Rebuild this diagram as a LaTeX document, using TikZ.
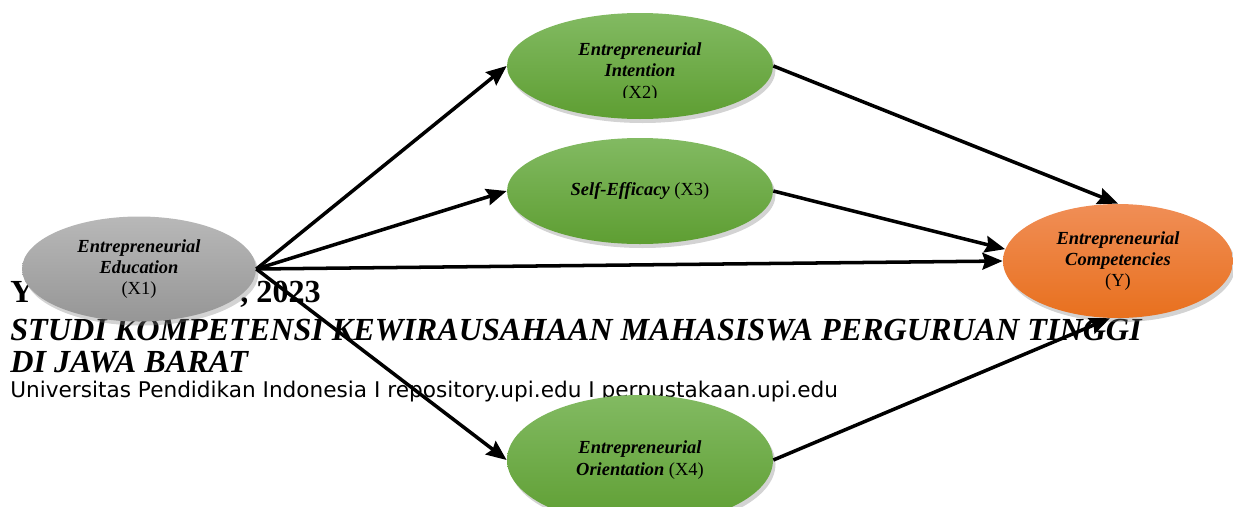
\documentclass[tikz,border=0pt]{standalone}
\usepackage{fontspec}
\setmainfont{Liberation Serif}
\newfontfamily\footsans{DejaVu Sans}
\usetikzlibrary{shapes.geometric}
\usetikzlibrary{shadows}
\usetikzlibrary{arrows.meta}

\definecolor{greentop}{RGB}{130,186,98}
\definecolor{greenbot}{RGB}{94,158,50}
\definecolor{graytop}{RGB}{184,184,184}
\definecolor{graybot}{RGB}{150,150,150}
\definecolor{orangetop}{RGB}{240,142,86}
\definecolor{orangebot}{RGB}{232,112,30}

\newcommand{\bi}[1]{\textbf{\textit{#1}}}

\tikzset{
	construct/.style={ellipse,inner sep=0pt,align=center,
		minimum width=5.32cm,minimum height=2.12cm,
		font=\fontsize{10.5}{12.2}\selectfont,
		drop shadow={shadow xshift=0.05cm,shadow yshift=-0.08cm,opacity=0.35}},
	greenshade/.style={top color=greentop,bottom color=greenbot},
	effect/.style={line width=2pt,-{Stealth[length=11.5pt,width=9.5pt,inset=1.5pt]}},
	foothead/.style={anchor=base west,inner sep=0pt,font=\fontsize{18.3}{20}\selectfont\bfseries},
}

\begin{document}
\begin{tikzpicture}
	\useasboundingbox (0,0) rectangle (24.66,10.12);
	% page footer lying underneath
	\node[foothead] (fy) at (0.2,4.08) {Y};
	\node[foothead] (fyear) at (4.8,4.08) {, 2023};
	\node[foothead,font=\fontsize{18.3}{20}\selectfont\bfseries\itshape] (ftitle) at (0.2,3.32) {STUDI KOMPETENSI KEWIRAUSAHAAN MAHASISWA PERGURUAN TINGGI};
	\node[foothead,font=\fontsize{18.3}{20}\selectfont\bfseries\itshape] (fregion) at (0.2,2.68) {DI JAWA BARAT};
	\node[anchor=base west,inner sep=0pt,font=\footsans\fontsize{12.3}{14}\selectfont] (fsite) at (0.2,2.18) {Universitas Pendidikan Indonesia I repository.upi.edu I perpustakaan.upi.edu};
	% the five variables
	\node[construct,minimum width=4.68cm,minimum height=2.1cm,top color=graytop,bottom color=graybot] (x1) at (2.78,4.74) {\bi{Entrepreneurial}\\\bi{Education}\\(X1)};
	\node[construct,greenshade] (x2) at (12.8,8.8) {};
	\begin{scope}
		\clip (10,8.18) rectangle (16,10);% text box cuts the last line
		\node[align=center,font=\fontsize{10.5}{12.2}\selectfont,yshift=-0.13cm] (x2text) at (x2) {\bi{Entrepreneurial}\\\bi{Intention}\\(X2)};
	\end{scope}
	\node[construct,greenshade] (x3) at (12.8,6.3) {\bi{Self-Efficacy} (X3)};
	\node[construct,greenshade,minimum height=2.6cm] (x4) at (12.8,0.92) {\bi{Entrepreneurial}\\\bi{Orientation} (X4)};
	\node[construct,minimum width=4.6cm,minimum height=2.28cm,top color=orangetop,bottom color=orangebot] (y) at (22.36,4.9) {\bi{Entrepreneurial}\\\bi{Competencies}\\(Y)};
	% paths
	\draw[effect] (x1.east) -- (x2.west);
	\draw[effect] (x1.east) -- (x3.west);
	\draw[effect] (x1.east) -- (y.west);
	\draw[effect] (x1.east) -- (x4.west);
	\draw[effect] (x2.east) -- (y.north);
	\draw[effect] (x3.east) -- (y.174);
	\draw[effect] (x4.east) -- (y.262);
\end{tikzpicture}
\end{document}
